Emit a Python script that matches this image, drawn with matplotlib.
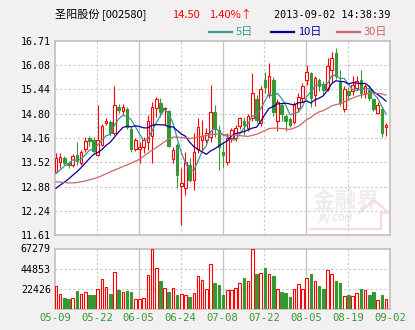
import matplotlib
matplotlib.use("Agg")
import matplotlib.pyplot as plt
import pandas as pd
from matplotlib.lines import Line2D

W, H = 415, 330
CJK = ["Noto Sans CJK SC", "DejaVu Sans"]
MONO = "DejaVu Sans Mono"

RED = "#ff0000"
GREEN = "#339933"
MA_COLORS = {"5日": "#339999", "10日": "#000099", "30日": "#cc6666"}
BG = "#f2f0f0"
FRAME = "#c4c4c4"

stock_name = "圣阳股份 [002580]"
last_price = "14.50"
change_pct = "1.40%↑"
timestamp = "2013-09-02 14:38:39"

opens = [13.27, 13.53, 13.63, 13.51, 13.46, 13.70, 13.50, 13.86, 14.15, 14.11,
         13.72, 13.98, 14.55, 14.59, 14.28, 14.97, 14.88, 14.92, 14.40, 13.87,
         13.87, 13.92, 14.06, 14.21, 14.94, 15.07, 14.91, 14.87, 13.60, 13.98,
         12.91, 12.84, 13.45, 13.06, 13.86, 14.11, 14.11, 14.18, 14.85, 14.37,
         13.80, 13.52, 14.17, 14.15, 14.48, 14.62, 14.42, 14.68, 15.18, 14.55,
         15.68, 15.30, 15.68, 14.60, 15.02, 14.75, 14.65, 14.58, 14.95, 15.22,
         15.68, 15.86, 15.28, 15.68, 15.58, 15.44, 15.95, 16.40, 15.62, 14.92,
         15.40, 15.40, 15.48, 15.68, 15.33, 15.42, 15.18, 14.83, 14.93, 14.44]
highs = [13.76, 13.77, 13.68, 13.55, 13.75, 14.06, 13.85, 14.19, 14.22, 14.19,
         15.03, 14.53, 14.68, 14.63, 15.53, 15.05, 15.06, 14.98, 14.45, 14.15,
         14.06, 14.19, 14.76, 15.11, 15.25, 15.20, 14.98, 14.90, 13.93, 14.02,
         13.36, 13.80, 13.63, 14.28, 14.68, 14.63, 14.42, 15.55, 15.03, 14.50,
         14.02, 14.28, 14.42, 14.50, 14.72, 14.70, 14.78, 15.88, 15.30, 15.52,
         15.90, 16.12, 15.77, 15.18, 15.08, 14.80, 14.70, 15.10, 15.35, 15.60,
         16.08, 15.90, 15.78, 15.75, 15.65, 16.25, 16.43, 16.52, 15.95, 15.52,
         15.50, 15.80, 15.78, 15.95, 15.57, 15.55, 15.20, 15.10, 14.98, 14.55]
lows = [13.24, 13.38, 13.46, 13.38, 13.40, 13.45, 13.45, 13.80, 13.95, 13.76,
        13.68, 13.95, 14.50, 14.20, 14.24, 14.82, 14.78, 14.40, 13.80, 13.82,
        13.49, 13.76, 13.84, 13.49, 14.72, 14.72, 14.50, 13.93, 13.49, 12.84,
        11.87, 12.66, 13.01, 12.79, 13.76, 13.84, 14.02, 14.06, 14.19, 13.32,
        13.39, 13.45, 14.05, 14.08, 14.40, 14.25, 14.35, 14.60, 14.55, 14.48,
        15.35, 15.22, 14.75, 14.35, 14.60, 14.35, 14.45, 14.52, 14.85, 15.10,
        15.55, 14.98, 15.00, 15.40, 15.32, 15.40, 15.62, 15.72, 15.00, 14.85,
        15.15, 15.28, 15.42, 15.20, 15.22, 15.12, 14.88, 14.80, 14.18, 14.21]
closes = [13.63, 13.66, 13.51, 13.46, 13.68, 13.56, 13.80, 14.08, 14.08, 13.82,
          14.10, 14.48, 14.61, 14.28, 15.03, 14.90, 14.97, 14.45, 13.86, 14.12,
          13.93, 14.11, 14.61, 14.98, 15.18, 14.85, 14.94, 13.96, 13.84, 13.19,
          12.97, 13.54, 13.06, 13.80, 14.44, 14.21, 14.30, 14.85, 14.40, 13.93,
          13.70, 14.15, 14.37, 14.42, 14.68, 14.50, 14.73, 15.33, 14.63, 15.45,
          15.50, 15.78, 14.85, 15.10, 14.78, 14.62, 14.50, 15.05, 15.25, 15.52,
          15.90, 15.20, 15.73, 15.52, 15.42, 16.06, 16.25, 15.80, 15.08, 15.45,
          15.28, 15.55, 15.66, 15.33, 15.52, 15.22, 14.92, 15.03, 14.28, 14.50]
volumes = [25800, 16500, 12000, 11200, 12000, 20200, 16500, 18700, 15700, 15700,
           22400, 33300, 24300, 16800, 41100, 21300, 18700, 20200, 19100, 10800,
           10800, 12000, 37800, 66800, 45600, 31400, 23200, 18700, 23200, 15700,
           16500, 15700, 13100, 17600, 36700, 32400, 22200, 50100, 28800, 26900,
           15700, 21300, 21300, 23200, 28800, 34400, 31400, 67279, 38900, 40000,
           45600, 38900, 36700, 22100, 19100, 17900, 13500, 22400, 27700, 22400,
           34400, 39200, 31400, 25800, 22400, 43700, 39200, 31400, 28800, 14600,
           15700, 14600, 17600, 22400, 21300, 15700, 19100, 9700, 15700, 10800]

# averages on the left edge use sessions before 05-09
ma5_lead = [13.23, 13.32, 13.42, 13.48]
ma10_lead = [12.84, 12.92, 13.00, 13.08, 13.18, 13.27, 13.38, 13.50, 13.62]
ma30_lead = [13.01, 13.00, 12.99, 12.98, 12.98, 12.99, 13.01, 13.03, 13.06, 13.09,
             13.12, 13.17, 13.22, 13.27, 13.32, 13.36, 13.41, 13.45, 13.50, 13.55,
             13.60, 13.68, 13.76, 13.84, 13.91, 13.98, 14.06, 14.13, 14.18]

price_ticks = [11.61, 12.24, 12.88, 13.52, 14.16, 14.80, 15.44, 16.08, 16.71]
volume_ticks = [22426, 44853, 67279]
date_labels = ["05-09", "05-22", "06-05", "06-24", "07-08",
               "07-22", "08-05", "08-19", "09-02"]

X_LEFT, X_RIGHT = -0.24, 79.96
BODY_W = 0.62


def px_rect(x0, y0, x1, y1):
    return [x0 / W, 1 - y1 / H, (x1 - x0) / W, (y1 - y0) / H]


def moving_average(lead, window):
    tail = pd.Series(closes).rolling(window).mean().dropna().tolist()
    return lead + tail


def grid_positions():
    step = (X_RIGHT - X_LEFT) / 8
    return [X_LEFT + k * step for k in range(9)]


def style_panel(ax, hlines):
    ax.set_facecolor("white")
    ax.set_xlim(X_LEFT, X_RIGHT)
    for spine in ax.spines.values():
        spine.set_color(FRAME)
        spine.set_linewidth(1.3)
    for k, x in enumerate(grid_positions()[1:-1], start=1):
        if k % 2 == 0:
            ax.axvline(x, color=FRAME, lw=1.0, zorder=0)
        else:
            ax.axvline(x, color="#c8c8c8", lw=0.8, ls=(0, (2, 2)), zorder=0)
    for y in hlines:
        ax.axhline(y, color="#c8c8c8", lw=0.8, ls=(0, (2, 2)), zorder=0)
    ax.tick_params(length=0, pad=3, labelsize=7.2)
    for label in ax.get_yticklabels():
        label.set_fontfamily(MONO)


def draw_candles(ax):
    xs = range(len(closes))
    for x, o, h, l, c in zip(xs, opens, highs, lows, closes):
        up = c >= o
        color = RED if up else GREEN
        ax.vlines(x, l, h, color=color, lw=0.8, zorder=2)
        ax.bar(x, max(abs(c - o), 0.012), bottom=min(o, c), width=BODY_W,
               facecolor="white" if up else GREEN, edgecolor=color,
               linewidth=0.8, zorder=3)


def draw_volume(ax):
    for x, v, o, c in zip(range(len(volumes)), volumes, opens, closes):
        up = c >= o
        ax.bar(x, v, width=BODY_W, facecolor="white" if up else GREEN,
               edgecolor=RED if up else GREEN, linewidth=0.8, zorder=3)


def draw_watermark(ax):
    ax.text(0.869, 0.175, "金融界", transform=ax.transAxes, ha="center",
            va="center", fontsize=16, fontweight="bold", family=CJK,
            color="#f1ecec", zorder=1)
    ax.text(0.785, 0.085, "JRJ.COM", transform=ax.transAxes, ha="left",
            va="center", fontsize=5.5, fontstyle="italic", fontweight="bold",
            color="#ece6e6", zorder=1)
    pts = [(310, 229), (381, 229), (381, 213), (389, 213), (374, 200), (359, 213)]
    ax.add_line(Line2D([(px - 55) / 335 for px, _ in pts],
                       [(235 - py) / 194 for _, py in pts],
                       transform=ax.transAxes, color="#f6dcdc", lw=1.6, zorder=1))


def draw_header(fig):
    y = 1 - 15 / H
    fig.text(55 / W, y, stock_name, family=CJK, fontsize=8, va="center")
    fig.text(172 / W, y, last_price, family=CJK, fontsize=8, va="center", color=RED)
    fig.text(209 / W, y, change_pct, family=CJK, fontsize=8, va="center", color=RED)
    fig.text(390 / W, y, timestamp, family=MONO, fontsize=7.3, va="center", ha="right")
    y = 1 - 32 / H
    for (name, color), x0 in zip(MA_COLORS.items(), (209, 271, 337)):
        fig.add_artist(Line2D([x0 / W, (x0 + 23) / W], [y, y], color=color, lw=1.6))
        fig.text((x0 + 27) / W, y, name, family=CJK, fontsize=8, va="center", color=color)


def main():
    fig = plt.figure(figsize=(W / 100, H / 100), dpi=100, facecolor=BG)
    ax_p = fig.add_axes(px_rect(55, 41, 390, 235))
    ax_v = fig.add_axes(px_rect(55, 248.5, 390, 309))

    ax_p.set_ylim(price_ticks[0], price_ticks[-1])
    ax_p.set_yticks(price_ticks, [f"{t:.2f}" for t in price_ticks])
    ax_p.set_xticks([])
    style_panel(ax_p, price_ticks[1:-1])
    draw_watermark(ax_p)
    draw_candles(ax_p)

    xs = list(range(len(closes)))
    for (name, color), lead, window in zip(MA_COLORS.items(),
                                           (ma5_lead, ma10_lead, ma30_lead),
                                           (5, 10, 30)):
        ax_p.plot(xs, moving_average(lead, window), color=color, lw=0.9, zorder=4)

    ax_v.set_ylim(0, volume_ticks[-1])
    ax_v.set_yticks(volume_ticks, [str(t) for t in volume_ticks])
    ax_v.set_xticks(grid_positions(), date_labels)
    style_panel(ax_v, volume_ticks[:-1])
    for label in ax_v.get_xticklabels():
        label.set_fontfamily(MONO)
        label.set_color(GREEN)
        label.set_fontsize(7.6)
    draw_volume(ax_v)

    draw_header(fig)
    fig.savefig("out.png", dpi=100, facecolor=BG)


if __name__ == "__main__":
    main()
